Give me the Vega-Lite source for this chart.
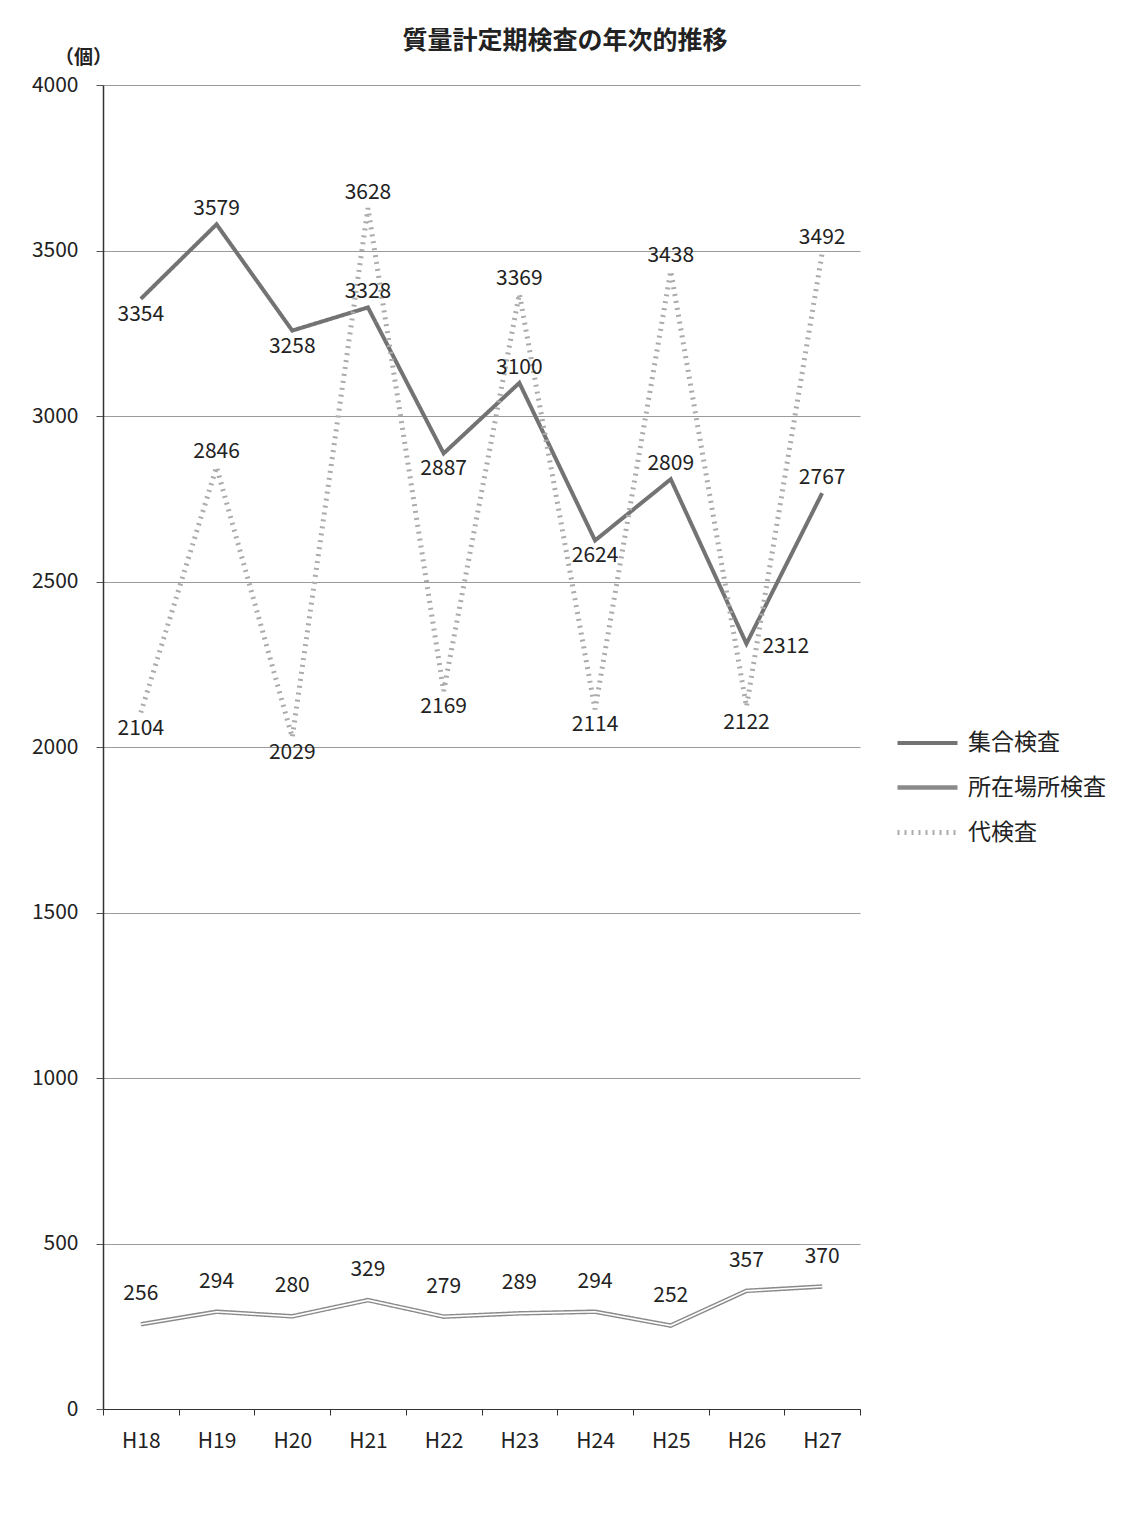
{
  "$schema": "https://vega.github.io/schema/vega-lite/v6.json",
  "width": 757,
  "height": 1324,
  "autosize": {"type": "none"},
  "padding": {"left": 103, "top": 85, "right": 279, "bottom": 106},
  "background": "white",
  "title": {"text": "質量計定期検査の年次的推移", "anchor": "start", "dx": 371, "fontSize": 25, "font": "Noto Sans CJK JP", "fontWeight": "bold", "color": "#222", "offset": -6},
  "config": {"view": {"stroke": null}, "font": "Noto Sans CJK JP"},
  "data": {"values": [
    {"year": "H18", "series": "集合検査", "value": 3354},
    {"year": "H19", "series": "集合検査", "value": 3579},
    {"year": "H20", "series": "集合検査", "value": 3258},
    {"year": "H21", "series": "集合検査", "value": 3328},
    {"year": "H22", "series": "集合検査", "value": 2887},
    {"year": "H23", "series": "集合検査", "value": 3100},
    {"year": "H24", "series": "集合検査", "value": 2624},
    {"year": "H25", "series": "集合検査", "value": 2809},
    {"year": "H26", "series": "集合検査", "value": 2312},
    {"year": "H27", "series": "集合検査", "value": 2767},
    {"year": "H18", "series": "所在場所検査", "value": 256},
    {"year": "H19", "series": "所在場所検査", "value": 294},
    {"year": "H20", "series": "所在場所検査", "value": 280},
    {"year": "H21", "series": "所在場所検査", "value": 329},
    {"year": "H22", "series": "所在場所検査", "value": 279},
    {"year": "H23", "series": "所在場所検査", "value": 289},
    {"year": "H24", "series": "所在場所検査", "value": 294},
    {"year": "H25", "series": "所在場所検査", "value": 252},
    {"year": "H26", "series": "所在場所検査", "value": 357},
    {"year": "H27", "series": "所在場所検査", "value": 370},
    {"year": "H18", "series": "代検査", "value": 2104},
    {"year": "H19", "series": "代検査", "value": 2846},
    {"year": "H20", "series": "代検査", "value": 2029},
    {"year": "H21", "series": "代検査", "value": 3628},
    {"year": "H22", "series": "代検査", "value": 2169},
    {"year": "H23", "series": "代検査", "value": 3369},
    {"year": "H24", "series": "代検査", "value": 2114},
    {"year": "H25", "series": "代検査", "value": 3438},
    {"year": "H26", "series": "代検査", "value": 2122},
    {"year": "H27", "series": "代検査", "value": 3492}
  ]},
  "encoding": {
    "x": {
      "field": "year", "type": "ordinal", "bandPosition": 0.5,
      "scale": {"type": "band", "paddingInner": 0, "paddingOuter": 0},
      "axis": {"title": null, "labelAngle": 0, "labelFontSize": 21, "labelColor": "#222", "labelPadding": 15, "tickBand": "extent", "tickSize": 6, "tickColor": "#333", "domainColor": "#333", "domainWidth": 1, "grid": false}
    },
    "y": {
      "field": "value", "type": "quantitative",
      "scale": {"domain": [0, 4000], "nice": false},
      "axis": {"values": [0, 500, 1000, 1500, 2000, 2500, 3000, 3500, 4000], "format": "d", "title": "（個）", "titleAngle": 0, "titleX": -20, "titleY": -28, "titleAlign": "center", "titleBaseline": "middle", "titleFontSize": 19, "titleFontWeight": "bold", "titleColor": "#222", "labelFontSize": 21, "labelColor": "#222", "labelPadding": 18, "tickSize": 7, "tickColor": "#555", "domainColor": "#333", "domainWidth": 1.5, "grid": true, "gridColor": "#9a9a9a", "gridWidth": 1}
    }
  },
  "layer": [
    {
      "mark": {"type": "line"},
      "encoding": {
        "color": {"field": "series", "type": "nominal", "scale": {"domain": ["集合検査", "所在場所検査", "代検査"], "range": ["#737373", "#8a8a8a", "#ababab"]},
          "legend": {"title": null, "orient": "none", "legendX": 792, "legendY": 626, "symbolType": "stroke", "symbolSize": 3600, "labelFontSize": 23, "labelColor": "#222", "rowPadding": -11, "labelOffset": 8}},
        "strokeDash": {"field": "series", "type": "nominal", "scale": {"domain": ["集合検査", "所在場所検査", "代検査"], "range": [[1, 0], [1, 0], [2, 5]]}},
        "strokeWidth": {"field": "series", "type": "nominal", "scale": {"domain": ["集合検査", "所在場所検査", "代検査"], "range": [4, 5, 3]}}
      }
    },
    {
      "transform": [{"filter": {"field": "series", "equal": "所在場所検査"}}],
      "mark": {"type": "line", "stroke": "white", "strokeWidth": 1.6},
      "encoding": {}
    },
    {
      "transform": [{"filter": {"and": [{"field": "series", "oneOf": ["集合検査", "代検査"]}, {"field": "year", "oneOf": ["H19", "H21", "H23", "H25", "H27"]}]}}],
      "mark": {"type": "text", "baseline": "bottom", "dy": -5, "fontSize": 21, "color": "#222"},
      "encoding": {"text": {"field": "value", "type": "quantitative"}}
    },
    {
      "transform": [{"filter": {"or": [
        {"and": [{"field": "series", "oneOf": ["集合検査", "代検査"]}, {"field": "year", "oneOf": ["H18", "H20", "H22", "H24"]}]},
        {"and": [{"field": "series", "equal": "代検査"}, {"field": "year", "equal": "H26"}]}
      ]}}],
      "mark": {"type": "text", "baseline": "top", "dy": 5, "fontSize": 21, "color": "#222"},
      "encoding": {"text": {"field": "value", "type": "quantitative"}}
    },
    {
      "transform": [{"filter": {"and": [{"field": "series", "equal": "集合検査"}, {"field": "year", "equal": "H26"}]}}],
      "mark": {"type": "text", "align": "left", "baseline": "middle", "dx": 16, "dy": 3, "fontSize": 21, "color": "#222"},
      "encoding": {"text": {"field": "value", "type": "quantitative"}}
    },
    {
      "transform": [{"filter": {"field": "series", "equal": "所在場所検査"}}],
      "mark": {"type": "text", "baseline": "bottom", "dy": -20, "fontSize": 21, "color": "#222"},
      "encoding": {"text": {"field": "value", "type": "quantitative"}}
    }
  ]
}
